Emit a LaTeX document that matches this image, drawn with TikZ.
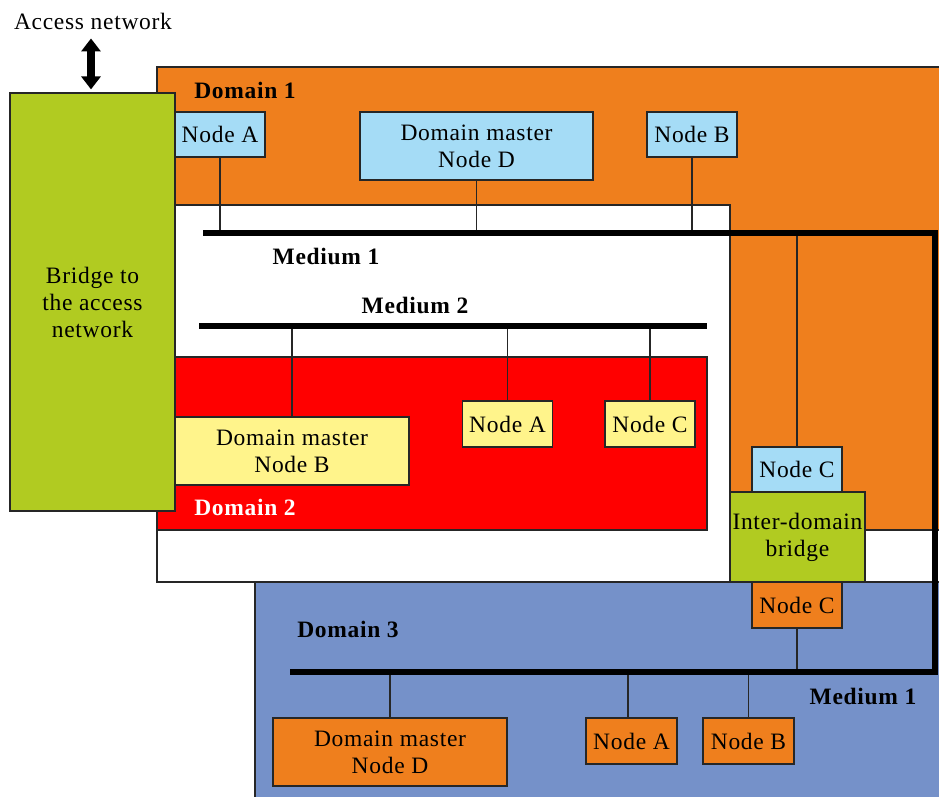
\documentclass[tikz,border=0pt]{standalone}
\usepackage{fontspec}
\setmainfont[LetterSpace=3]{Liberation Serif}
\usetikzlibrary{arrows.meta}
\definecolor{dorange}{HTML}{EF7F1D}
\definecolor{lblue}{HTML}{A5DCF6}
\definecolor{bgreen}{HTML}{B1CB21}
\definecolor{dred}{HTML}{FF0000}
\definecolor{lyellow}{HTML}{FFF48B}
\definecolor{dblue}{HTML}{7591C9}
\begin{document}
\begin{tikzpicture}[x=1pt,y=-1pt,
  box/.style={draw=black!85, line width=1.2pt, inner sep=0pt, align=center,
    font=\fontsize{23.5}{27}\selectfont},
  area/.style={draw=black!85, line width=1.2pt},
  drop/.style={draw=black!85, line width=1.2pt},
  medium/.style={line width=6pt, black},
  lbl/.style={font=\fontsize{23.5}{27}\selectfont\bfseries, inner sep=0pt}]
\useasboundingbox (0,0) rectangle (939,797);
% areas
\fill[white] (0,0) rectangle (939,797);
\path[area, fill=dorange] (157,67) rectangle (941,530);
\path[area, fill=white] (157,205) rectangle (730,582);
\path[area, fill=white] (730,530) rectangle (934,582);
\path[area, fill=dred] (157,357) rectangle (707,530);
\path[area, fill=dblue] (255,582) rectangle (941,799);
% media
\coordinate (m1L) at (203,233);
\coordinate (m1R) at (935,233);
\coordinate (m1B) at (935,672);
\coordinate (m3L) at (290,672);
\coordinate (m2L) at (199,326);
\coordinate (m2R) at (707,326);
% nodes
\node[box, fill=bgreen, minimum width=165pt, minimum height=418pt] (bridge) at (92.5,302) {Bridge to\\the access\\network};
\node[box, fill=lblue, minimum width=90pt, minimum height=45pt] (d1a) at (220,134.5) {Node A};
\node[box, fill=lblue, minimum width=233pt, minimum height=68pt] (d1d) at (476.5,146) {Domain master\\Node D};
\node[box, fill=lblue, minimum width=90pt, minimum height=45pt] (d1b) at (692,134.5) {Node B};
\node[box, fill=lblue, minimum width=90pt, minimum height=45pt] (d1c) at (797,469.5) {Node C};
\node[box, fill=bgreen, minimum width=135pt, minimum height=90pt] (idb) at (797.5,537) {Inter-domain\\bridge};
\node[box, fill=dorange, minimum width=90pt, minimum height=46pt] (d3c) at (797,605) {Node C};
\node[box, fill=lyellow, minimum width=234pt, minimum height=68pt] (d2b) at (292,451) {Domain master\\Node B};
\node[box, fill=lyellow, minimum width=90pt, minimum height=46pt] (d2a) at (507.5,424) {Node A};
\node[box, fill=lyellow, minimum width=90pt, minimum height=46pt] (d2c) at (650,424) {Node C};
\node[box, fill=dorange, minimum width=234pt, minimum height=68pt] (d3d) at (390,752) {Domain master\\Node D};
\node[box, fill=dorange, minimum width=91pt, minimum height=46pt] (d3a) at (631.5,741) {Node A};
\node[box, fill=dorange, minimum width=91pt, minimum height=46pt] (d3b) at (748.5,741) {Node B};
% drops
\draw[drop] (d1a.south) -- (d1a.south |- m1L);
\draw[drop] (d1d.south) -- (d1d.south |- m1L);
\draw[drop] (d1b.south) -- (d1b.south |- m1L);
\draw[drop] (d1c.north) -- (d1c.north |- m1L);
\draw[drop] (d3c.south) -- (d3c.south |- m3L);
\draw[drop] (d2b.north) -- (d2b.north |- m2L);
\draw[drop] (d2a.north) -- (d2a.north |- m2L);
\draw[drop] (d2c.north) -- (d2c.north |- m2L);
\draw[drop] (d3d.north) -- (d3d.north |- m3L);
\draw[drop] ([xshift=-3.5pt]d3a.north) -- ([xshift=-3.5pt]d3a.north |- m3L);
\draw[drop] (d3b.north) -- (d3b.north |- m3L);
% media lines
\draw[medium] (m1L) -- (m1R) -- (m1B) -- (m3L);
\draw[medium] (m2L) -- (m2R);
% labels
\node[font=\fontsize{23.5}{27}\selectfont, inner sep=0pt] (acc) at (93,21) {Access network};
\draw[line width=8pt, {Triangle[width=19pt,length=13pt]}-{Triangle[width=19pt,length=13pt]}, shorten <=9pt, shorten >=3pt] (acc.south -| 91,0) -- (bridge.north -| 91,0);
\node[lbl] (l1) at (245,90) {Domain 1};
\node[lbl] (lm1) at (326,256) {Medium 1};
\node[lbl] (lm2) at (415,305) {Medium 2};
\node[lbl, text=white] (l2) at (245,507) {Domain 2};
\node[lbl] (l3) at (348,629) {Domain 3};
\node[lbl] (lm1b) at (863,696) {Medium 1};
\end{tikzpicture}
\end{document}
